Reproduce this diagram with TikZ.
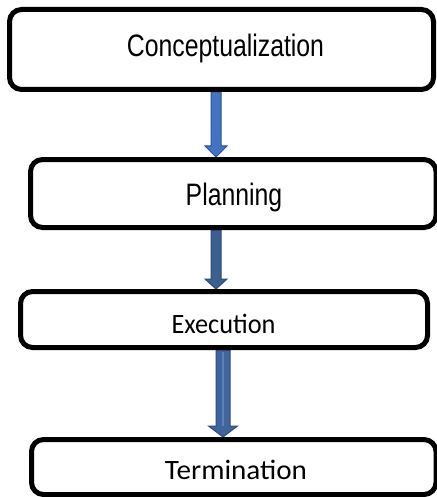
\documentclass[tikz,border=0pt]{standalone}
\usepackage{fontspec}
\setmainfont{Liberation Sans}
\newfontfamily\calib{Carlito}
\usetikzlibrary{calc}
\pgfdeclarelayer{bg}
\pgfsetlayers{bg,main}
\definecolor{arrA}{HTML}{4472C4}
\definecolor{arrAline}{HTML}{2F528F}
\definecolor{arrB}{HTML}{3B5F91}
\definecolor{arrBline}{HTML}{2E4C78}
\definecolor{arrC}{HTML}{3F659C}
\definecolor{arrCline}{HTML}{2E4C78}
\definecolor{arrCstripe}{HTML}{5A83BE}
% #1 start, #2 end (tip), #3 half shaft, #4 half head, #5 head length, #6 style
\newcommand\fatarrow[6]{%
  \path[#6] let \p1=(#1), \p2=(#2) in
    (\x1-#3,\y1) -- (\x1+#3,\y1) -- (\x1+#3,\y2+#5) -- (\x1+#4,\y2+#5)
    -- (\x1,\y2) -- (\x1-#4,\y2+#5) -- (\x1-#3,\y2+#5) -- cycle;}
\begin{document}
\begin{tikzpicture}[x=1pt,y=-1pt,
  stagebox/.style={draw=black, line width=5pt, rounded corners=12pt, inner sep=0pt},
  arialtext/.style={font=\fontsize{31}{36}\selectfont, anchor=base, inner sep=0pt},
  calibtext/.style={font=\calib\fontsize{28}{34}\selectfont, anchor=base, inner sep=0pt},
]
\useasboundingbox (0,0) rectangle (436,497);
% boxes
\node[stagebox, minimum width=424pt, minimum height=80pt] (b1) at (221.5,49.5) {};
\node[stagebox, minimum width=405.5pt, minimum height=68pt] (b2) at (233.25,193.5) {};
\node[stagebox, minimum width=407pt, minimum height=56pt] (b3) at (224,319.5) {};
\node[stagebox, minimum width=404.5pt, minimum height=55pt] (b4) at (233.75,467) {};
% texts
\node[arialtext] (t1) at (225.5,57) {\scalebox{0.8}[1]{Conceptualization}};
\node[arialtext] (t2) at (234,205) {\scalebox{0.8}[1]{Planning}};
\node[calibtext] (t3) at (223.5,333) {\scalebox{0.94}[1]{Execution}};
\node[calibtext] (t4) at (236,479) {\scalebox{1.04}[1]{Termination}};
% arrow columns
\coordinate (xa) at (216,0);
\coordinate (xc) at (223,0);
\coordinate (s3) at (223,352);
\coordinate (e3) at (223,426);
\begin{pgfonlayer}{bg}
\fatarrow{b1.south -| xa}{b2.north -| xa}{5pt}{11pt}{11pt}{fill=arrA, draw=arrAline, line width=1pt}
\fatarrow{b2.south -| xa}{b3.north -| xa}{5pt}{11pt}{10pt}{fill=arrB, draw=arrBline, line width=1pt}
\fatarrow{b3.south -| xc}{b4.north -| xc}{7pt}{14.5pt}{11pt}{fill=arrC, draw=arrCline, line width=1pt}
\draw[arrCstripe, line width=2.5pt] (s3) -- (e3);
\end{pgfonlayer}
\end{tikzpicture}
\end{document}
